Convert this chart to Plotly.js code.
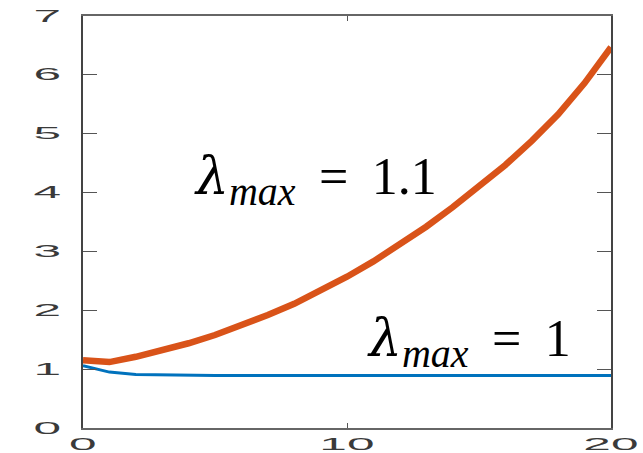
<!DOCTYPE html>
<html>
<head>
<meta charset="utf-8">
<script src="https://cdn.plot.ly/plotly-3.0.1.min.js"></script>
<style>
html,body{margin:0;padding:0;background:#fff;}
#chart{width:643px;height:453px;}
</style>
</head>
<body>
<div id="chart"></div>
<script>
var steps = [0,1,2,3,4,5,6,7,8,9,10,11,12,13,14,15,16,17,18,19,20];
var lambda11 = [1.15,1.12,1.21,1.32,1.44,1.58,1.74,1.92,2.11,2.33,2.57,2.83,3.11,3.42,3.75,4.10,4.47,4.88,5.33,5.86,6.47];
var lambda1 = [1.06,0.95,0.91,0.90,0.89,0.89,0.89,0.89,0.89,0.89,0.89,0.89,0.89,0.89,0.89,0.89,0.89,0.89,0.89,0.89,0.89];
var xTicks = [0,10,20];
var yTicks = [0,1,2,3,4,5,6,7];
var lam = '<span style="font-family:\'DejaVu Serif\'"><i>λ</i></span>';
var sub = '<sub><span style="font-size:40px"><i>max</i></span></sub>';
var label11 = lam + sub + '\u00a0\u2009=\u00a0\u20091.1';
var label1 = lam + sub + '\u00a0\u2009=\u00a0\u20091';

var traces = [
  {x: steps, y: lambda1, mode: 'lines', line: {color: '#0072BD', width: 3}, hoverinfo: 'skip'},
  {x: steps, y: lambda11, mode: 'lines', line: {color: '#D95319', width: 6.5}, hoverinfo: 'skip'}
];

var tickFont = {family: 'Liberation Sans, Arial, sans-serif', size: 16, color: '#3a3a3a'};
var annFont = {family: 'Liberation Serif, Times New Roman, serif', size: 52, color: '#000'};

var layout = {
  width: 643, height: 453,
  margin: {l: 83, r: 32, t: 16, b: 25, pad: 0},
  paper_bgcolor: '#fff', plot_bgcolor: '#fff',
  showlegend: false,
  xaxis: {
    range: [0, 20], tickvals: xTicks, ticktext: xTicks.map(String),
    ticks: 'inside', ticklen: 5, tickcolor: '#555', tickwidth: 1,
    showline: true, linecolor: '#666', linewidth: 2, mirror: 'allticks',
    showgrid: false, zeroline: false, tickfont: tickFont, ticklabelstandoff: 1
  },
  yaxis: {
    range: [0, 7], tickvals: yTicks, ticktext: yTicks.map(String),
    ticks: 'inside', ticklen: 14, tickcolor: '#555', tickwidth: 1,
    showline: true, linecolor: '#444', linewidth: 2, mirror: 'allticks',
    showgrid: false, zeroline: false, tickfont: tickFont, ticklabelstandoff: 26
  },
  annotations: [
    {x: 4.13, y: 4.22, xref: 'x', yref: 'y', xanchor: 'left', yanchor: 'middle', showarrow: false,
     text: label11, font: annFont},
    {x: 10.7, y: 1.46, xref: 'x', yref: 'y', xanchor: 'left', yanchor: 'middle', showarrow: false,
     text: label1, font: annFont}
  ]
};

function stretchTicks() {
  var sx = 3.1;
  document.querySelectorAll('#chart .xtick text, #chart .ytick text').forEach(function(t){
    if (t.getAttribute('data-stretched')) return;
    var tr = t.getAttribute('transform') || '';
    var bb = t.getBBox();
    var cx = bb.x + bb.width/2;
    t.setAttribute('transform', tr + ' translate(' + cx + ',0) scale(' + sx + ',1) translate(' + (-cx) + ',0)');
    t.setAttribute('data-stretched', '1');
  });
}

Plotly.newPlot('chart', traces, layout, {displayModeBar: false, staticPlot: true}).then(stretchTicks);
</script>
</body>
</html>
